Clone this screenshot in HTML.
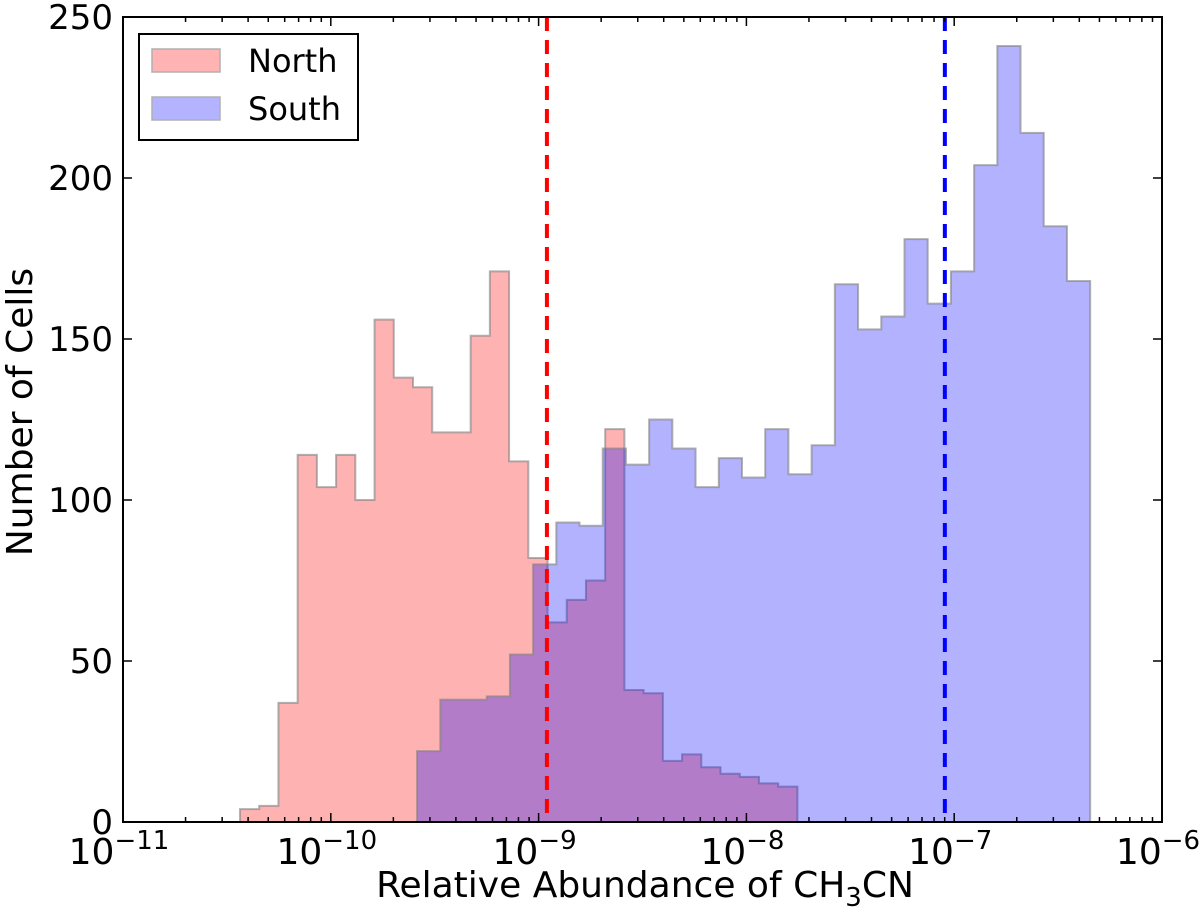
<!DOCTYPE html>
<html><head><meta charset="utf-8"><style>
body{margin:0;background:#fff;}
svg{display:block;font-family:"DejaVu Sans","Liberation Sans",sans-serif;}
</style></head><body>
<svg id="chart" width="1200" height="918" viewBox="0 0 1200 918"></svg>
<script>
const northStart = -10.437, northWidth = 0.0925;
const northCounts = [4,5,37,114,104,114,100,156,138,135,121,121,151,171,112,82,62,69,75,122,41,40,19,21,17,15,14,12,11];
const southStart = -9.585, southWidth = 0.1117;
const southCounts = [22,38,38,39,52,80,93,92,116,111,125,116,104,113,107,122,108,117,167,153,157,181,161,171,204,241,214,185,168];
const northMedianLog = -8.96;
const southMedianLog = -7.045;
const yTicks = [0,50,100,150,200,250];
const xDecades = [-11,-10,-9,-8,-7,-6];

const NS='http://www.w3.org/2000/svg';
const svg=document.getElementById('chart');
const L=123,R=1162,T=17,B=822;
const xs=v=>L+(v-(-11))/5*(R-L);
const ys=v=>B-v/250*(B-T);
function mk(tag,attrs,parent){const e=document.createElementNS(NS,tag);for(const k in attrs)e.setAttribute(k,attrs[k]);(parent||svg).appendChild(e);return e;}

function hist(start,w,counts,fill,name){
  let d='M'+xs(start)+','+ys(0);
  counts.forEach((c,i)=>{d+=' L'+xs(start+i*w)+','+ys(c)+' L'+xs(start+(i+1)*w)+','+ys(c);});
  d+=' L'+xs(start+counts.length*w)+','+ys(0)+' Z';
  const p=mk('path',{d:d,fill:fill,'fill-opacity':0.3,stroke:'#808080','stroke-opacity':0.6,'stroke-width':2});
  
  
}
hist(northStart,northWidth,northCounts,'#ff0000','north-histogram');
hist(southStart,southWidth,southCounts,'#0000ff','south-histogram');

const ml=mk('line',{x1:xs(northMedianLog),x2:xs(northMedianLog),y1:T,y2:B,stroke:'#ff0000','stroke-width':4,'stroke-dasharray':'14,9'});


const sl=mk('line',{x1:xs(southMedianLog),x2:xs(southMedianLog),y1:T,y2:B,stroke:'#0000ff','stroke-width':4,'stroke-dasharray':'14,9'});



const tg=mk('g',{stroke:'#000','stroke-width':1.5});


yTicks.forEach(v=>{
  mk('line',{x1:L,x2:L+9,y1:ys(v),y2:ys(v)},tg);
  mk('line',{x1:R,x2:R-9,y1:ys(v),y2:ys(v)},tg);
  const t=mk('text',{x:L-10,y:ys(v)+12,'text-anchor':'end','font-size':34,fill:'#000',stroke:'none'});
  t.textContent=v;
  
  
});
xDecades.forEach((d,i)=>{
  mk('line',{x1:xs(d),x2:xs(d),y1:B,y2:B-9},tg);
  mk('line',{x1:xs(d),x2:xs(d),y1:T,y2:T+9},tg);
  if(i<xDecades.length-1){for(let m=2;m<=9;m++){const x=xs(d+Math.log10(m));
    mk('line',{x1:x,x2:x,y1:B,y2:B-5},tg);mk('line',{x1:x,x2:x,y1:T,y2:T+5},tg);}}
  const t=mk('text',{x:xs(d)-4,y:B+42,'text-anchor':'middle','font-size':36,fill:'#000',stroke:'none'});
  t.innerHTML='10<tspan dy="-15" font-size="26">−'+(-d)+'</tspan>';
  
  
});
</script>
<svg width="1200" height="918" style="position:absolute;left:0;top:0">
<rect x="123" y="17" width="1039" height="805" fill="none" stroke="#000" stroke-width="2"/>
<text x="645" y="897" text-anchor="middle" font-size="36" font-family="DejaVu Sans,Liberation Sans,sans-serif">Relative Abundance of CH<tspan dy="9" font-size="26">3</tspan><tspan dy="-9">CN</tspan></text>
<text transform="translate(32,412) rotate(-90)" text-anchor="middle" font-size="36" font-family="DejaVu Sans,Liberation Sans,sans-serif">Number of Cells</text>
<g>
<rect x="139" y="34" width="219" height="106" fill="#fff" stroke="#000" stroke-width="2"/>
<rect x="152" y="49" width="68" height="23" fill="#ffb3b3" stroke="#b0b0b0" stroke-width="1.5"/>
<rect x="152" y="97" width="68" height="23" fill="#b3b3ff" stroke="#b0b0b0" stroke-width="1.5"/>
<text x="248" y="72" font-size="32" font-family="DejaVu Sans,Liberation Sans,sans-serif">North</text>
<text x="248" y="120" font-size="32" font-family="DejaVu Sans,Liberation Sans,sans-serif">South</text>
</g>
</svg>
</body></html>
